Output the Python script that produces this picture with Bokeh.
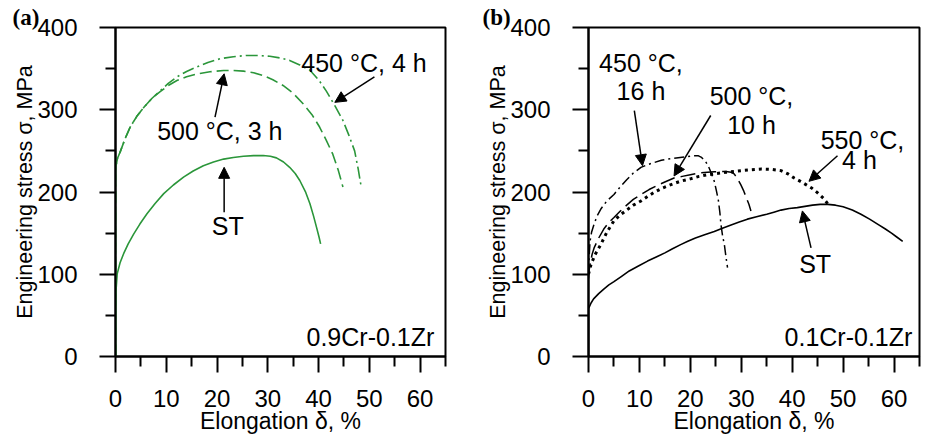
from bokeh.plotting import figure
from bokeh.models import Range1d, FixedTicker, Label, Arrow, NormalHead
from bokeh.layouts import row
from bokeh.embed import file_html
from bokeh.resources import INLINE

# ---------------- tick values ----------------
x_major = [0, 10, 20, 30, 40, 50, 60]
x_minor = [5, 15, 25, 35, 45, 55, 65]
y_major = [0, 100, 200, 300, 400]
y_minor = [50, 150, 250, 350]

# ---------------- panel (a): 0.9Cr-0.1Zr ----------------
a_st_x = [0, 0, 0.1, 0.33, 0.9, 1.6, 2.5, 3.6, 4.8, 6.2, 7.8, 9.5, 11.4, 13.4, 15.3, 17.3, 19.3, 21.3, 23.2,
          25.2, 27.2, 29.1, 30.5, 31.7, 33.1, 34.3, 35.4, 36.3, 37.4, 38.3, 39.0, 39.6, 40.1, 40.4]
a_st_y = [0, 60, 80, 100.5, 114, 125, 137, 149, 161, 173.5, 186, 198, 208.5, 218, 225.5, 232, 236.5, 240, 242,
          243.5, 244.2, 244.4, 243.5, 241.5, 236.5, 230, 222.5, 214, 200.5, 185.6, 171, 157, 145, 137]

a_450_x = [0, 0, 0.1, 0.4, 1, 1.9, 2.9, 4.2, 5.6, 7.2, 8.8, 10.4, 12.1, 14, 16, 18.2, 20.6, 23.2, 25.8, 28.1,
           30.4, 32.4, 34.3, 36.3, 38.3, 40, 41.5, 43.2, 44.8, 46, 47.1, 47.8, 48.4]
a_450_y = [0, 225, 232, 241, 250, 265, 279, 292, 303, 314, 323, 332, 340, 346.5, 352, 357.5, 362, 364.5, 366, 366,
           365, 363, 360, 354.5, 348, 336.5, 323, 305, 287, 268.5, 250, 228, 206]

a_500_x = [0, 0, 0.1, 0.4, 1, 1.9, 2.9, 4.2, 5.6, 7.2, 8.8, 10.4, 12.1, 14, 16, 18.6, 21.3, 23.2, 25.2, 27.2,
           29.1, 31, 33, 35, 37, 38.7, 40.2, 41.5, 42.8, 43.9, 44.8]
a_500_y = [0, 225, 232, 241, 250, 265, 279, 292, 303, 314, 322, 329.5, 335.6, 340, 343.5, 346.2, 347.7, 347.8, 347, 345,
           341.6, 336.5, 329.5, 320, 307, 294, 279, 263, 246, 226, 206]

# ---------------- panel (b): 0.1Cr-0.1Zr ----------------
b_st_x = [0, 0, 0.5, 1, 2, 3, 4, 5, 6.5, 8, 9.8, 11.6, 13.3, 15, 16.5, 18.1, 19.5, 21, 22.8, 24.7, 26.3, 28, 29.6,
          31.2, 33, 35, 36.4, 37.8, 39.4, 41, 42.5, 44, 45.5, 47, 48.5, 50, 51.8, 53.5, 55.2, 57, 58.3, 59.5, 60.6, 61.7]
b_st_y = [0, 58, 65, 70, 76.5, 82, 87, 91, 97.5, 104, 110, 116, 121, 126, 131, 136, 140, 144, 148, 152, 156, 160, 163.5,
          167, 170, 173, 175.5, 178, 180, 181, 182.5, 184, 185, 185, 184, 182, 178, 173, 167, 160, 155, 150, 145, 140]

b_450_x = [0, 0.1, 0.3, 0.6, 1.1, 1.7, 2.5, 3.6, 5, 6.2, 7.5, 8.8, 10.3, 11.7, 13, 14.3, 15.5, 16.8, 18, 19.3,
           20.7, 21.6, 22.2, 22.9, 23.5, 24.1, 24.7, 25.1, 25.5, 25.8, 26, 26.3, 26.7, 27, 27.3]
b_450_y = [100, 118, 140, 151, 161, 171, 180, 189, 197, 206, 215, 223, 230, 233.5, 236, 238.5, 240, 241, 242, 243,
           244, 244, 242, 238, 232, 223, 213, 202, 190, 175, 161, 148, 135, 121, 108]

b_500_x = [0, 0.1, 0.4, 0.7, 1.1, 2, 3, 4, 5, 6.2, 7.5, 8.8, 10.3, 11.9, 13.5, 15.1, 16.8, 18.4, 20, 21.7, 23.4,
           24.7, 26, 27, 28, 28.6, 29.2, 29.9, 30.5, 31, 31.5, 31.9]
b_500_y = [95, 104, 115, 124, 132, 144, 155, 163, 169, 176.5, 184, 191, 197, 203, 208, 212.5, 217, 219, 221, 223, 224,
           224.6, 225, 225, 224, 222, 217, 209, 201, 193, 185, 177]

b_550_x = [0, 0.2, 0.5, 1.3, 2.4, 3.6, 5, 6.2, 7.5, 8.8, 10.3, 11.6, 13, 14.6, 16.2, 18, 20, 21.7, 23.4, 25.2, 27,
           28.5, 30, 32, 34, 36, 37.8, 39.2, 40.4, 41.6, 42.7, 43.9, 45, 46.2, 47.3]
b_550_y = [100, 105, 112, 124, 136, 151, 165, 172, 178, 184, 189, 194.5, 200, 205, 209, 213, 216, 219, 221, 222.5, 224,
           225, 226, 227, 228, 227.5, 226, 222, 217, 213, 209, 204.5, 199, 192, 183]

GREEN = "#2b963a"
FONT = "Liberation Sans"


def make_fig(width, border_left, border_right, tag, tag_offset):
    p = figure(width=width, height=442,
               x_range=Range1d(0, 65), y_range=Range1d(0, 400),
               output_backend="svg", toolbar_location=None,
               min_border_left=border_left, min_border_right=border_right,
               min_border_top=27, min_border_bottom=86)
    p.grid.visible = False
    p.outline_line_color = "black"
    p.outline_line_width = 2
    p.background_fill_color = "white"
    p.border_fill_color = "white"
    p.title.text = tag
    p.title.align = "left"
    p.title.offset = tag_offset
    p.title.standoff = -5
    p.title.text_font = "Liberation Serif"
    p.title.text_font_size = "23px"
    p.title.text_font_style = "bold"
    p.title.text_color = "black"
    p.xaxis.ticker = FixedTicker(ticks=x_major, minor_ticks=x_minor)
    p.yaxis.ticker = FixedTicker(ticks=y_major, minor_ticks=y_minor)
    p.xaxis.axis_label = "Elongation δ, %"
    p.yaxis.axis_label = "Engineering stress σ, MPa"
    for ax in (p.xaxis[0], p.yaxis[0]):
        ax.axis_line_color = "black"
        ax.axis_line_width = 2
        ax.major_tick_line_color = "black"
        ax.major_tick_line_width = 2
        ax.minor_tick_line_color = "black"
        ax.minor_tick_line_width = 2
        ax.major_tick_in = 0
        ax.minor_tick_in = 0
        ax.major_tick_out = 16
        ax.minor_tick_out = 10
        ax.major_label_text_font = FONT
        ax.major_label_text_font_size = "24px"
        ax.major_label_text_color = "black"
        ax.axis_label_text_font = FONT
        ax.axis_label_text_font_style = "normal"
        ax.axis_label_text_color = "black"
    p.xaxis.axis_label_text_font_size = "23px"
    p.yaxis.axis_label_text_font_size = "21.5px"
    p.xaxis.major_label_standoff = 17
    p.xaxis.axis_label_standoff = -2
    p.yaxis.major_label_standoff = 22
    p.yaxis.axis_label_standoff = -3
    return p


def add_text(p, x, y, txt, align="left", size="25px"):
    p.add_layout(Label(x=x, y=y, text=txt, text_font=FONT, text_font_size=size,
                       text_align=align, text_baseline="alphabetic", text_color="black"))


def add_arrow(p, x0, y0, x1, y1):
    p.add_layout(Arrow(end=NormalHead(size=11, fill_color="black", line_color="black"),
                       x_start=x0, y_start=y0, x_end=x1, y_end=y1,
                       line_color="black", line_width=1.5))


# ---------------- panel (a) ----------------
pa = make_fig(462, 115, 17, "(a)", -103)
pa.line(a_st_x, a_st_y, line_color=GREEN, line_width=1.6)
pa.line(a_500_x, a_500_y, line_color=GREEN, line_width=1.6, line_dash="12 5")
pa.line(a_450_x, a_450_y, line_color=GREEN, line_width=1.6, line_dash="12 4 2 4")
add_text(pa, 36.6, 357, "450 °C, 4 h")
add_arrow(pa, 51, 340, 43.2, 309)
add_text(pa, 8.2, 274, "500 °C, 3 h")
add_arrow(pa, 19.6, 291, 21.4, 343.7)
add_text(pa, 22.1, 158.5, "ST", align="center")
add_arrow(pa, 21.4, 175.5, 21.4, 230)
add_text(pa, 62.8, 24, "0.9Cr-0.1Zr", align="right")

# ---------------- panel (b) ----------------
pb = make_fig(465, 126, 8, "(b)", -106)
pb.line(b_st_x, b_st_y, line_color="black", line_width=1.6)
pb.line(b_450_x, b_450_y, line_color="black", line_width=1.5, line_dash="10 4 2 4")
pb.line(b_500_x, b_500_y, line_color="black", line_width=1.5, line_dash="15 6")
pb.line(b_550_x, b_550_y, line_color="black", line_width=3, line_dash="3 4")
add_text(pb, 10.3, 357, "450 °C,", align="center")
add_text(pb, 10.3, 322.5, "16 h", align="center")
add_arrow(pb, 9, 299, 10.6, 232)
add_text(pb, 32, 316.5, "500 °C,", align="center")
add_text(pb, 32, 281.5, "10 h", align="center")
add_arrow(pb, 24, 293, 16.8, 219.5)
add_text(pb, 53.8, 263.5, "550 °C,", align="center")
add_text(pb, 53.2, 239, "4 h", align="center")
add_arrow(pb, 48.9, 244, 43.3, 213)
add_text(pb, 44.5, 113, "ST", align="center")
add_arrow(pb, 43.7, 132, 42, 177)
add_text(pb, 63.6, 23.7, "0.1Cr-0.1Zr", align="right")

layout = row(pa, pb)
open("out.html", "w").write(file_html(layout, INLINE))
